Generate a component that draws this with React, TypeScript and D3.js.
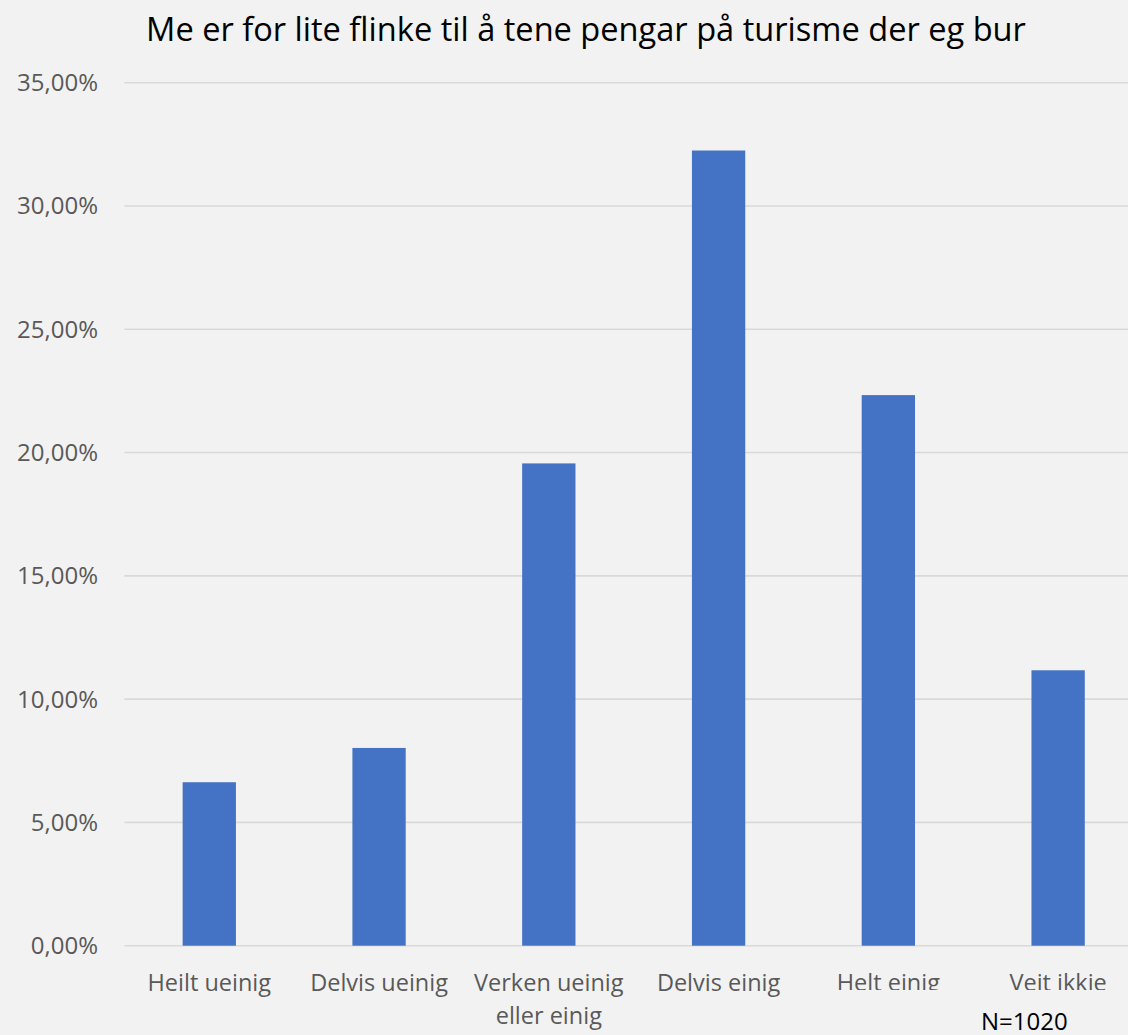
import React, { useEffect, useRef } from "react";
import * as d3 from "d3";

const chartTitle = "Me er for lite flinke til å tene pengar på turisme der eg bur";
const categories = [
  "Heilt ueinig",
  "Delvis ueinig",
  "Verken ueinig eller einig",
  "Delvis einig",
  "Helt einig",
  "Veit ikkje",
];
const shares = [6.63, 8.02, 19.56, 32.25, 22.33, 11.17];
const yTicks = [0, 5, 10, 15, 20, 25, 30, 35];
const sampleNote = "N=1020";

const W = 1128;
const H = 1035;
const FONT = "'Open Sans', 'Noto Sans', sans-serif";

const fmtPct = (v: number) => v.toFixed(2).replace(".", ",") + "%";

const App = () => {
  const svgRef = useRef<SVGSVGElement | null>(null);

  useEffect(() => {
    const svg = d3.select(svgRef.current);
    svg.selectAll("*").remove();

    const x = d3
      .scaleBand<string>()
      .domain(categories)
      .range([124.4, 1143])
      .paddingInner(0.686)
      .paddingOuter(0.343);
    const y = d3.scaleLinear().domain([0, 35]).range([945.7, 82.7]);

    svg.append("rect").attr("width", W).attr("height", H).attr("fill", "#F2F2F2");

    // the last labels are cut off at the baseline in the original
    const clip = svg.append("defs").append("clipPath").attr("id", "label-clip");
    clip.append("rect").attr("x", 0).attr("y", 0).attr("width", 800).attr("height", H);
    clip.append("rect").attr("x", 800).attr("y", 0).attr("width", W - 800).attr("height", 990);

    // gridlines
    svg
      .append("g")
      .selectAll("line")
      .data(yTicks)
      .enter()
      .append("line")
      .attr("x1", 124.4)
      .attr("x2", 1143)
      .attr("y1", (d) => y(d))
      .attr("y2", (d) => y(d))
      .attr("stroke", "#D9D9D9")
      .attr("stroke-width", 1.6);

    // y labels
    svg
      .append("g")
      .selectAll("text")
      .data(yTicks)
      .enter()
      .append("text")
      .attr("x", 98)
      .attr("y", (d) => y(d))
      .attr("dy", "0.35em")
      .attr("text-anchor", "end")
      .attr("font-family", FONT)
      .attr("font-size", 24)
      .attr("fill", "#595959")
      .text((d) => fmtPct(d));

    // bars
    svg
      .append("g")
      .selectAll("rect")
      .data(categories)
      .enter()
      .append("rect")
      .attr("x", (d) => x(d) || 0)
      .attr("width", x.bandwidth())
      .attr("y", (d, i) => y(shares[i]))
      .attr("height", (d, i) => y(0) - y(shares[i]))
      .attr("fill", "#4472C4");

    // category labels, wrapped to the band step
    const labels = svg
      .append("g")
      .attr("clip-path", "url(#label-clip)")
      .selectAll("text")
      .data(categories)
      .enter()
      .append("text")
      .attr("text-anchor", "middle")
      .attr("font-family", FONT)
      .attr("font-size", 23.5)
      .attr("fill", "#595959");

    labels.each(function (d) {
      const text = d3.select(this);
      const cx = (x(d) || 0) + x.bandwidth() / 2;
      const words = d.split(" ");
      let line: string[] = [];
      let lineNo = 0;
      let tspan = text.append("tspan").attr("x", cx).attr("y", 991);
      words.forEach((w) => {
        line.push(w);
        tspan.text(line.join(" "));
        const node = tspan.node() as SVGTSpanElement;
        if (node.getComputedTextLength() > x.step() - 4 && line.length > 1) {
          line.pop();
          tspan.text(line.join(" "));
          line = [w];
          lineNo += 1;
          tspan = text
            .append("tspan")
            .attr("x", cx)
            .attr("y", 991 + lineNo * 33)
            .text(w);
        }
      });
    });

    svg
      .append("text")
      .attr("x", 586)
      .attr("y", 41)
      .attr("text-anchor", "middle")
      .attr("font-family", FONT)
      .attr("font-size", 32.6)
      .attr("fill", "#000")
      .text(chartTitle);

    svg
      .append("text")
      .attr("x", 981)
      .attr("y", 1030)
      .attr("font-family", FONT)
      .attr("font-size", 24)
      .attr("fill", "#000")
      .text(sampleNote);
  }, []);

  return (
    <svg
      ref={svgRef}
      width={W}
      height={H}
      style={{ position: "absolute", left: 0, top: 0, display: "block" }}
    />
  );
};

export default App;
